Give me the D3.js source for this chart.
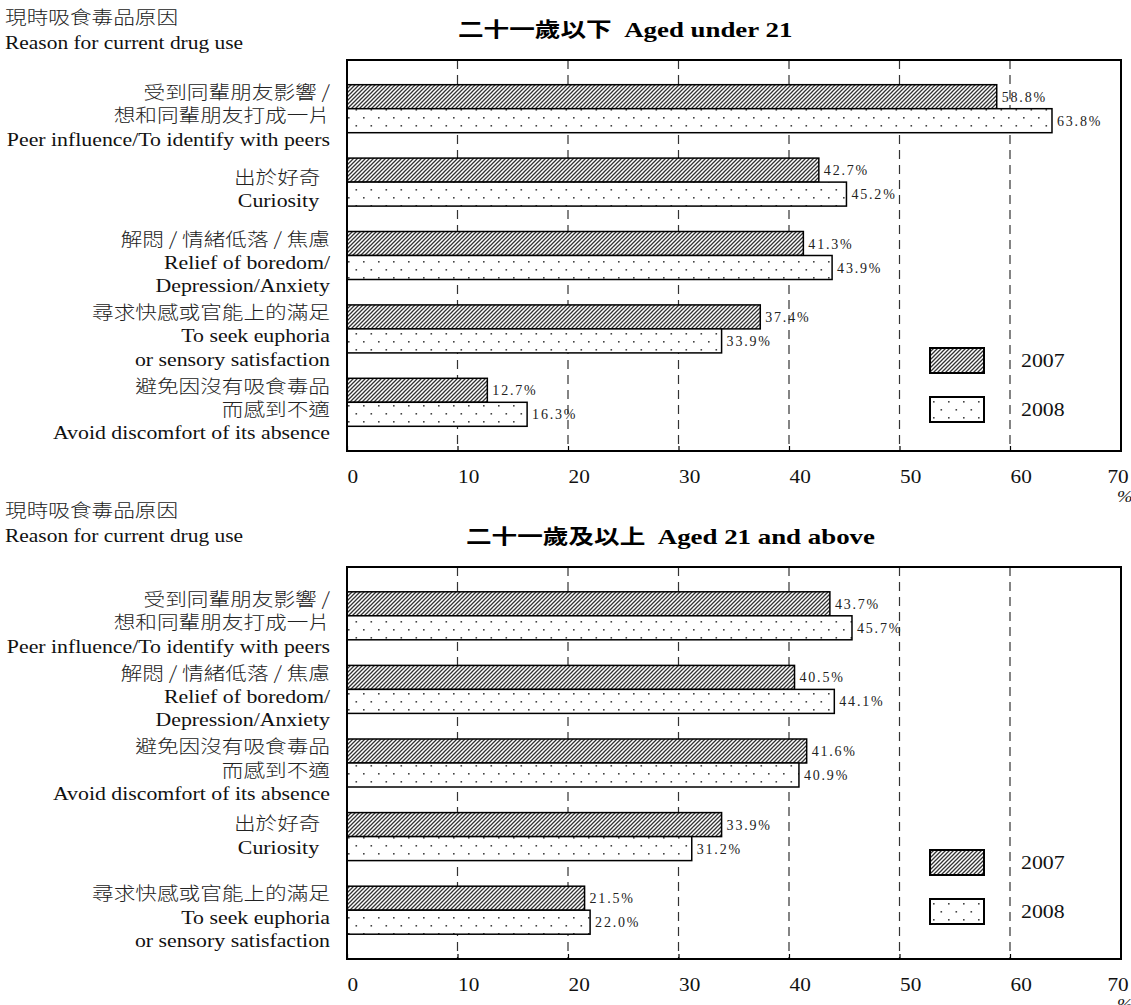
<!DOCTYPE html>
<html>
<head>
<meta charset="utf-8">
<script src="https://cdn.jsdelivr.net/npm/d3@7"></script>
<style>
  html, body { margin: 0; padding: 0; background: #fff; }
  svg { display: block; }
  .serif { font-family: "Liberation Serif", "Times New Roman", serif; }
  .cjk { font-family: "Noto Sans CJK TC", "Noto Sans CJK SC", sans-serif; }
</style>
</head>
<body>
<svg id="chart" width="1131" height="1005"></svg>
<script>
// ---- data ----
const years = ["2007", "2008"];
const tickValues = [0, 10, 20, 30, 40, 50, 60, 70];
const headerZh = "現時吸食毒品原因";
const headerEn = "Reason for current drug use";

// Aged under 21
const titleUnder21 = ["二十一歲以下", "Aged under 21"];
const catsUnder21 = [
  ["受到同輩朋友影響 /", "想和同輩朋友打成一片", "Peer influence/To identify with peers"],
  ["出於好奇\u00a0\u00a0", "Curiosity\u00a0\u00a0"],
  ["解悶 / 情緒低落 / 焦慮", "Relief of boredom/", "Depression/Anxiety"],
  ["尋求快感或官能上的滿足", "To seek euphoria", "or sensory satisfaction"],
  ["避免因沒有吸食毒品", "而感到不適", "Avoid discomfort of its absence"]
];
const under21_2007 = [58.8, 42.7, 41.3, 37.4, 12.7];
const under21_2008 = [63.8, 45.2, 43.9, 33.9, 16.3];

// Aged 21 and above
const titleOver21 = ["二十一歲及以上", "Aged 21 and above"];
const catsOver21 = [
  ["受到同輩朋友影響 /", "想和同輩朋友打成一片", "Peer influence/To identify with peers"],
  ["解悶 / 情緒低落 / 焦慮", "Relief of boredom/", "Depression/Anxiety"],
  ["避免因沒有吸食毒品", "而感到不適", "Avoid discomfort of its absence"],
  ["出於好奇\u00a0\u00a0", "Curiosity\u00a0\u00a0"],
  ["尋求快感或官能上的滿足", "To seek euphoria", "or sensory satisfaction"]
];
const over21_2007 = [43.7, 40.5, 41.6, 33.9, 21.5];
const over21_2008 = [45.7, 44.1, 40.9, 31.2, 22.0];

// ---- drawing ----
const svg = d3.select("#chart");
const defs = svg.append("defs");

// diagonal hatch for 2007
const hatch = defs.append("pattern")
  .attr("id", "hatch").attr("patternUnits", "userSpaceOnUse")
  .attr("width", 4).attr("height", 4);
hatch.append("rect").attr("width", 4).attr("height", 4).attr("fill", "#fff");
hatch.append("path")
  .attr("d", "M-1,1 l2,-2 M0,4 l4,-4 M3,5 l2,-2")
  .attr("stroke", "#333").attr("stroke-width", 1.3);

// staggered dots for 2008
const dots = defs.append("pattern")
  .attr("id", "dots").attr("patternUnits", "userSpaceOnUse")
  .attr("width", 15).attr("height", 16).attr("y", 5);
dots.append("rect").attr("width", 15).attr("height", 16).attr("fill", "#fff");
dots.append("rect").attr("x", 3).attr("y", 0).attr("width", 1.6).attr("height", 1.6).attr("fill", "#444");
dots.append("rect").attr("x", 10.5).attr("y", 8).attr("width", 1.6).attr("height", 1.6).attr("fill", "#444");

const fills = { "2007": "url(#hatch)", "2008": "url(#dots)" };
const isCJK = s => /[\u3400-\u9fff]/.test(s);

// text set in a horizontally widened face
function wideText(parent, cls, x, y, size, anchor, txt, sx) {
  return parent.append("text")
    .attr("class", cls)
    .attr("transform", `translate(${x},${y}) scale(${sx},1)`)
    .attr("font-size", size)
    .attr("font-weight", cls === "cjk" ? 300 : null)
    .attr("text-anchor", anchor)
    .attr("xml:space", "preserve")
    .text(txt);
}

const x = d3.scaleLinear().domain([0, 70]).range([347, 1120.5]);

function drawPanel(cfg) {
  const g = svg.append("g");
  const top = cfg.top, bottom = cfg.bottom;
  const left = x(0), right = 1121;

  // header
  wideText(g, "cjk", 5, cfg.headerY, 18.5, "start", headerZh, 1.17).attr("fill", "#222");
  wideText(g, "serif", 5, cfg.headerY + 25, 18.5, "start", headerEn, 1.16).attr("fill", "#111");

  // title
  const t = g.append("text")
    .attr("transform", `translate(${cfg.titleX},${top - 23}) scale(1.25,1)`)
    .attr("font-weight", "bold").attr("fill", "#000");
  t.append("tspan").attr("class", "cjk").attr("font-size", 20.5).text(cfg.title[0]);
  t.append("tspan").attr("class", "serif").attr("font-size", 21.5).attr("dx", 10).text(cfg.title[1]);

  const y = d3.scaleBand().domain(d3.range(cfg.cats.length))
    .range([top + 12, bottom - 12]);
  const barH = 24;

  // gridlines
  g.selectAll("line.grid").data(tickValues.filter(v => v > 0 && v < 70)).join("line")
    .attr("class", "grid")
    .attr("x1", d => x(d)).attr("x2", d => x(d))
    .attr("y1", top).attr("y2", bottom)
    .attr("stroke", "#333").attr("stroke-width", 1.2)
    .attr("stroke-dasharray", "9,6");

  // axis ticks and labels
  const axis = d3.axisBottom(x).tickValues(tickValues).tickSize(-5).tickPadding(0)
    .tickFormat(d3.format("d"));
  const ax = g.append("g").attr("transform", `translate(0,${bottom})`).call(axis);
  ax.select(".domain").remove();
  ax.selectAll(".tick line").attr("stroke", "#000").attr("stroke-width", 1.2);
  ax.selectAll(".tick text")
    .attr("class", "serif").attr("font-size", 18.5).attr("fill", "#111")
    .attr("text-anchor", d => d === 70 ? "middle" : "start")
    .attr("x", 0).attr("y", 0).attr("dy", null)
    .attr("transform", d => `translate(${d === 70 ? -3 : 0},32) scale(1.15,1)`);
  wideText(g, "serif", 1117, bottom + 51, 17, "start", "%", 1.1)
    .attr("font-style", "italic").attr("fill", "#111");

  // bars
  const rows = cfg.cats.map((c, i) => ({ i, v: [cfg.v2007[i], cfg.v2008[i]] }));
  rows.forEach(r => {
    const cy = y(r.i) + y.bandwidth() / 2;
    years.forEach((yr, k) => {
      const val = r.v[k];
      const by = cy - barH + k * barH;
      g.append("rect")
        .attr("x", x(0)).attr("y", by)
        .attr("width", x(val) - x(0)).attr("height", barH)
        .attr("fill", fills[yr]).attr("stroke", "#000").attr("stroke-width", 1.5);
      g.append("text").attr("class", "serif")
        .attr("x", x(val) + 5).attr("y", by + barH / 2 + 5)
        .attr("font-size", 14).attr("letter-spacing", 1.8).attr("fill", "#222")
        .text(val.toFixed(1) + "%");
    });
  });

  // category labels
  cfg.cats.forEach((lines, i) => {
    const cy = y(i) + y.bandwidth() / 2 + 7 + (cfg.labelNudge[i] || 0);
    const lh = 23.3;
    const y0 = cy - (lines.length - 1) * lh / 2;
    lines.forEach((ln, j) => {
      const cj = isCJK(ln);
      wideText(g, cj ? "cjk" : "serif", 330, y0 + j * lh + 6.5,
        18.5, "end", ln, cj ? 1.17 : 1.18)
        .attr("fill", cj ? "#222" : "#111");
    });
  });

  // frame
  g.append("rect").attr("x", left).attr("y", top)
    .attr("width", right - left).attr("height", bottom - top)
    .attr("fill", "none").attr("stroke", "#000").attr("stroke-width", 2);

  // legend
  const lg = g.append("g").attr("transform", `translate(930,${top + cfg.legendDy})`);
  years.forEach((yr, k) => {
    lg.append("rect").attr("x", 0).attr("y", k * 49)
      .attr("width", 54).attr("height", 25)
      .attr("fill", fills[yr]).attr("stroke", "#000").attr("stroke-width", 2);
    wideText(lg, "serif", 91, k * 49 + 19, 19, "start", yr, 1.15).attr("fill", "#111");
  });
}

drawPanel({
  top: 60, bottom: 451, headerY: 24, titleX: 458, title: titleUnder21,
  cats: catsUnder21, v2007: under21_2007, v2008: under21_2008, legendDy: 288,
  labelNudge: {}
});
drawPanel({
  top: 567, bottom: 959, headerY: 517, titleX: 466, title: titleOver21,
  cats: catsOver21, v2007: over21_2007, v2008: over21_2008, legendDy: 283,
  labelNudge: { 3: -8 }
});
</script>
</body>
</html>
